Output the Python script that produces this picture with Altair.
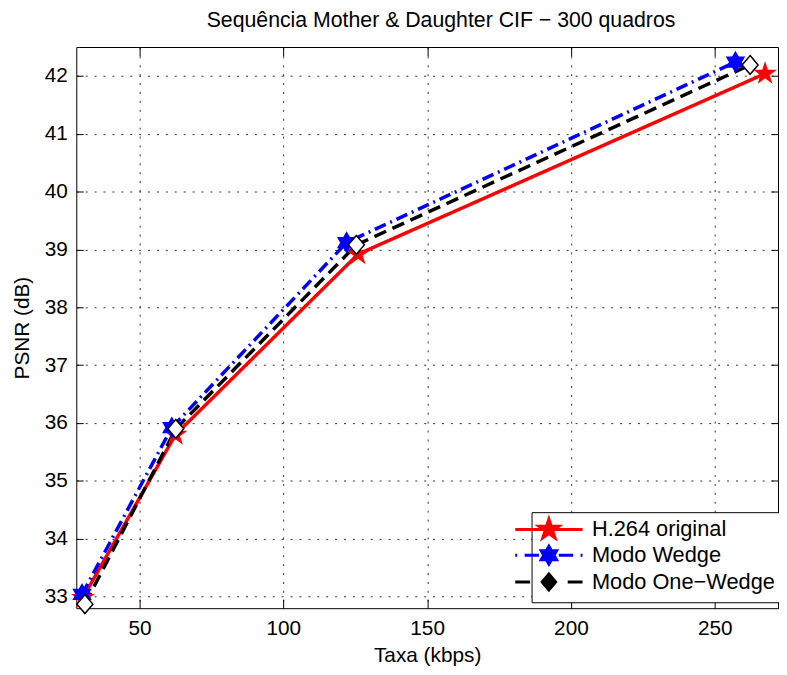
import math
import altair as alt
import pandas as pd

# ---------------- data ----------------
series_names = ["H.264 original", "Modo Wedge", "Modo One\u2212Wedge"]
rate_h264 = [30.3, 62.5, 126.0, 267.5]
psnr_h264 = [32.98, 35.80, 38.92, 42.04]
rate_wedge = [30.0, 61.2, 122.0, 257.2]
psnr_wedge = [33.04, 35.92, 39.12, 42.24]
rate_onewedge = [31.0, 62.6, 125.4, 262.3]
psnr_onewedge = [32.87, 35.90, 39.08, 42.19]

x_ticks = [50, 100, 150, 200, 250]
y_ticks = [33, 34, 35, 36, 37, 38, 39, 40, 41, 42]

rows = []
for name, xs, ys in [(series_names[0], rate_h264, psnr_h264),
                     (series_names[1], rate_wedge, psnr_wedge),
                     (series_names[2], rate_onewedge, psnr_onewedge)]:
    for xv, yv in zip(xs, ys):
        rows.append({"series": name, "rate": xv, "psnr": yv})
df = pd.DataFrame(rows)

# ---------------- marker geometry ----------------
def star_path(n, R, r, cx=0.0):
    pts = []
    for k in range(2 * n):
        ang = -math.pi / 2 + k * math.pi / n
        rad = R if k % 2 == 0 else r
        pts.append((cx + rad * math.cos(ang), rad * math.sin(ang)))
    return "M" + "L".join(f"{px:.4f},{py:.4f}" for px, py in pts) + "Z"

def diamond_path(h, w):
    return f"M0,{-h:.4f}L{w:.4f},0L0,{h:.4f}L{-w:.4f},0Z"

pent = star_path(5, 1.0, 0.382)
hexa = star_path(6, 1.0, 0.577)
diam = diamond_path(1.0, 0.85)

# legend symbols: line segments + marker; unit = 10 px, symbol spans 68 px
leg_red = "M-3.4,0L3.4,0" + star_path(5, 1.05, 0.4)
leg_blue = ("M-3.4,0L-3.2,0M-2.45,0L-1.0,0M1.0,0L2.45,0M3.2,0L3.4,0"
            + star_path(6, 0.9, 0.52))
leg_black = "M-3.4,0L-1.9,0M1.9,0L3.4,0" + diamond_path(0.8, 0.68)

FONT = "Liberation Sans"
FS = 21
colors_line = ["#ff0000", "#0000ff", "#000000"]
x_scale = alt.Scale(domain=[28, 272], nice=False, zero=False)
y_scale = alt.Scale(domain=[32.8, 42.5], nice=False, zero=False)

base = alt.Chart(df)

# lines (with label axes + grid)
lines = base.mark_line(strokeWidth=3.5).encode(
    x=alt.X("rate:Q", scale=x_scale,
            axis=alt.Axis(orient="bottom", values=x_ticks, title="Taxa (kbps)",
                          ticks=False, tickSize=0, domain=False, grid=True,
                          labelPadding=10, titlePadding=6)),
    y=alt.Y("psnr:Q", scale=y_scale,
            axis=alt.Axis(orient="left", values=y_ticks, title="PSNR (dB)",
                          ticks=False, tickSize=0, domain=False, grid=True,
                          labelPadding=9, titlePadding=12)),
    color=alt.Color("series:N", scale=alt.Scale(domain=series_names, range=colors_line),
                    legend=None),
    strokeDash=alt.StrokeDash("series:N",
                              scale=alt.Scale(domain=series_names,
                                              range=[[1, 0], [12, 5, 2, 5], [13, 7]]),
                              legend=None),
)

# markers (with inward ticks on bottom / left)
points = base.mark_point(filled=True, opacity=1).encode(
    x=alt.X("rate:Q", scale=x_scale,
            axis=alt.Axis(orient="bottom", values=x_ticks, title=None, labels=False,
                          ticks=True, tickSize=9, offset=-9, domain=False, grid=False)),
    y=alt.Y("psnr:Q", scale=y_scale,
            axis=alt.Axis(orient="left", values=y_ticks, title=None, labels=False,
                          ticks=True, tickSize=7, offset=-7, domain=False, grid=False)),
    shape=alt.Shape("series:N", scale=alt.Scale(domain=series_names, range=[pent, hexa, diam]),
                    legend=None),
    fill=alt.Fill("series:N", scale=alt.Scale(domain=series_names,
                                              range=["#ff0000", "#0000ff", "#ffffff"]),
                  legend=None),
    stroke=alt.Stroke("series:N", scale=alt.Scale(domain=series_names, range=colors_line),
                      legend=None),
    strokeWidth=alt.StrokeWidth("series:N",
                                scale=alt.Scale(domain=series_names, range=[1.5, 1.5, 3]),
                                legend=None),
    size=alt.Size("series:N", scale=alt.Scale(domain=series_names, range=[420, 360, 270]),
                  legend=None),
)

leg_props = dict(orient="none", legendX=460, legendY=470, title=None,
                 strokeColor="black", fillColor="white", padding=6,
                 labelFont=FONT, labelFontSize=22, labelColor="black",
                 labelLimit=400, labelOffset=32, symbolSize=400,
                 symbolStrokeWidth=3, rowPadding=-4, cornerRadius=0)

# legend provider (no marks drawn) with inward ticks on top / right
legend_layer = base.transform_filter("false").mark_point(
    filled=True, opacity=1, strokeWidth=3).encode(
    x=alt.X("rate:Q", scale=x_scale,
            axis=alt.Axis(orient="top", values=x_ticks, title=None, labels=False,
                          ticks=True, tickSize=9, offset=-9, domain=False, grid=False)),
    y=alt.Y("psnr:Q", scale=y_scale,
            axis=alt.Axis(orient="right", values=y_ticks, title=None, labels=False,
                          ticks=True, tickSize=7, offset=-7, domain=False, grid=False)),
    shape=alt.Shape("series:N",
                    scale=alt.Scale(domain=series_names, range=[leg_red, leg_blue, leg_black]),
                    legend=alt.Legend(**leg_props)),
    fill=alt.Fill("series:N", scale=alt.Scale(domain=series_names, range=colors_line),
                  legend=alt.Legend(**leg_props)),
    stroke=alt.Stroke("series:N", scale=alt.Scale(domain=series_names, range=colors_line),
                      legend=alt.Legend(**leg_props)),
)

chart = alt.layer(lines, points, legend_layer).resolve_axis(
    x="independent", y="independent"
).resolve_scale(
    shape="independent", fill="independent", stroke="independent"
).properties(
    width=709, height=567, background="white",
    title=alt.TitleParams("Sequ\u00eancia Mother & Daughter CIF \u2212 300 quadros",
                          font=FONT, fontSize=21.5, fontWeight="normal", color="black",
                          baseline="alphabetic", offset=17, dy=19, dx=14,
                          anchor="middle", frame="group"),
    autosize=alt.AutoSizeParams(type="none"),
    padding={"left": 69, "top": 36, "right": 1, "bottom": 55},
).configure_view(
    stroke="black", strokeWidth=1
).configure_axis(
    labelFont=FONT, labelFontSize=FS, labelColor="black",
    titleFont=FONT, titleFontSize=FS, titleColor="black", titleFontWeight="normal",
    tickColor="black", tickWidth=1,
    gridColor="#333333", gridDash=[2, 7], gridWidth=1, gridOpacity=1,
)

chart.save("out.html", embed_options={"renderer": "svg", "actions": False})
